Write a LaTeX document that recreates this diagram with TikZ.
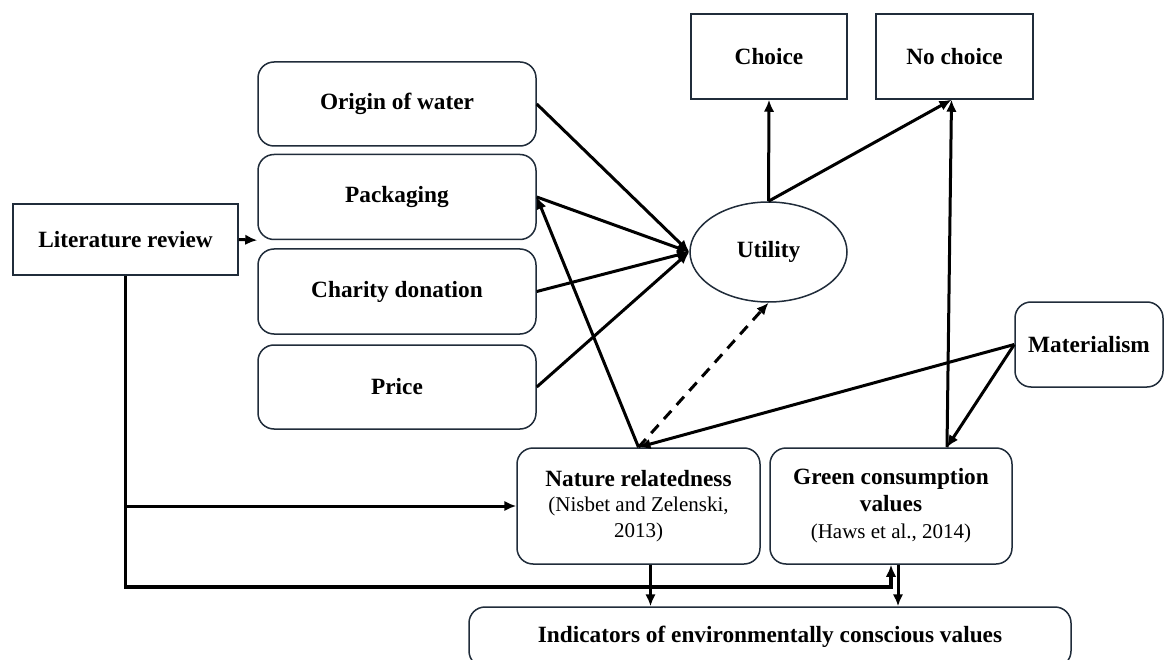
\documentclass[tikz,border=0pt]{standalone}
\usepackage{fontspec}
\setmainfont{Liberation Serif}
\usetikzlibrary{arrows.meta,shapes.geometric,calc}
\definecolor{bord}{RGB}{32,44,58}
\begin{document}
\begin{tikzpicture}[x=1pt,y=-1pt,
  bx/.style={draw=bord,line width=1.5pt,inner sep=0pt,align=center,
    font=\fontsize{23.3}{28}\selectfont\bfseries},
  sq/.style={bx},
  rd/.style={bx,rounded corners=16pt},
  cite/.style={font=\fontsize{21}{25.5}\selectfont},
  citeg/.style={font=\fontsize{21}{27}\selectfont},
  arr/.style={line width=3pt,-{Latex[length=12pt,width=10.5pt]}},
  dsh/.style={arr,dash pattern=on 11pt off 8pt}]
\useasboundingbox (0,0) rectangle (1164,660);
\clip (0,0) rectangle (1164,660);
\fill[white] (0,0) rectangle (1164,660);
% nodes
\node[sq,minimum width=225pt,minimum height=71pt] (lit) at (125.5,239.5) {Literature review};
\node[rd,minimum width=278pt,minimum height=84pt] (origin) at (397,104) {Origin of water};
\node[rd,minimum width=278pt,minimum height=85pt] (pack) at (397,197) {Packaging};
\node[rd,minimum width=278pt,minimum height=85pt] (charity) at (397,291.5) {Charity donation};
\node[rd,minimum width=278pt,minimum height=84pt] (price) at (397,387) {Price};
\node[bx,ellipse,minimum width=157pt,minimum height=100pt] (utility) at (768.5,252) {Utility};
\node[sq,minimum width=156pt,minimum height=85pt] (choice) at (769,56.5) {Choice};
\node[sq,minimum width=157pt,minimum height=85pt] (nochoice) at (954.5,56.5) {No choice};
\node[rd,minimum width=148pt,minimum height=85pt] (mat) at (1089,344.5) {Materialism};
\node[rd,cite,minimum width=243pt,minimum height=116pt] (nature) at (638.5,506) {{\fontsize{23.3}{25.5}\selectfont\bfseries Nature relatedness}\\(Nisbet and Zelenski,\\2013)};
\node[rd,citeg,minimum width=242pt,minimum height=116pt] (green) at (891,506) {{\fontsize{23.3}{27}\selectfont\bfseries Green consumption}\\{\fontsize{23.3}{27}\selectfont\bfseries values}\\(Haws et al., 2014)};
\node[rd,minimum width=602pt,minimum height=60pt] (ind) at (770,637) {Indicators of environmentally conscious values};
% helper coordinates
\coordinate (gtop) at ($(green.north)+(56,0)$);
\coordinate (nctip) at ($(nochoice.south)+(-3,0)$);
\coordinate (nb) at ($(nature.south)+(12,0)$);
\coordinate (gb) at ($(green.south)+(7,0)$);
% connectors
\draw[arr] (lit.east) -- (pack.south west);
\draw[arr] (origin.east) -- (utility.west);
\draw[arr] (pack.east) -- (utility.west);
\draw[arr] (charity.east) -- (utility.west);
\draw[arr] (price.east) -- (utility.west);
\draw[arr] (nature.north) -- (pack.east);
\draw[dsh] (nature.north) -- (utility.south);
\draw[arr] (utility.north) -- (choice.south);
\draw[arr] (utility.north) -- (nctip);
\draw[arr] (gtop) -- (nctip);
\draw[arr] (mat.west) -- (nature.north);
\draw[arr] (mat.west) -- (gtop);
\draw[arr,line width=3.5pt] (lit.south) |- ($(green.south)+(0,22)$) -- (green.south);
\draw[arr] (lit.south |- nature.west) -- (nature.west);
\draw[arr] (nb) -- (nb |- ind.north);
\draw[arr] (gb) -- (gb |- ind.north);
\end{tikzpicture}
\end{document}
